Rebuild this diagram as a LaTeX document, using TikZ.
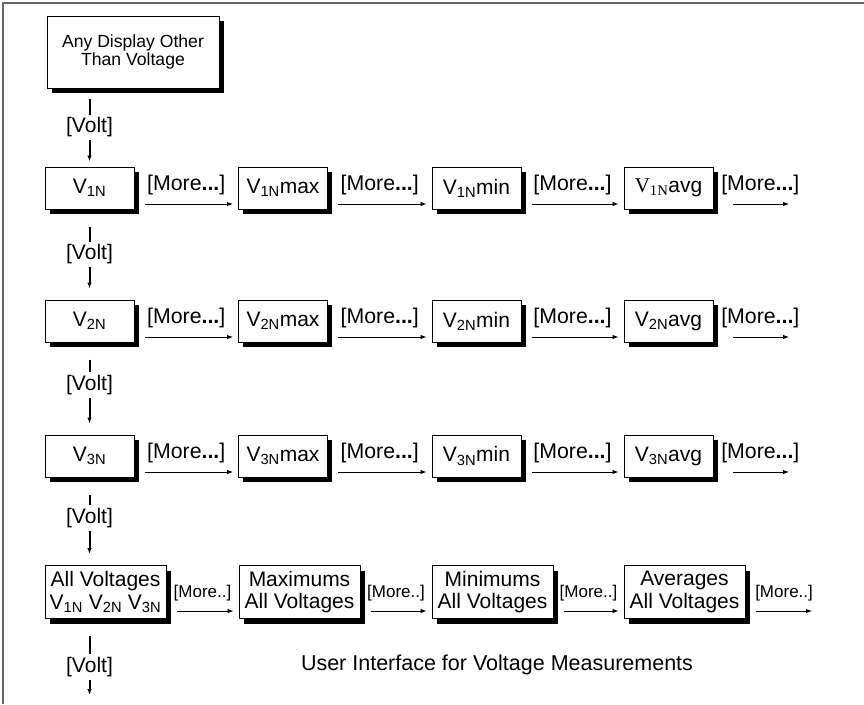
\documentclass[tikz,border=0pt]{standalone}
\usepackage{fontspec}
\setmainfont{Liberation Sans}
\newfontfamily\timesfont{Liberation Serif}
\usepackage{tikz}
\usetikzlibrary{arrows.meta,shadows}

\tikzset{
  box/.style={draw, line width=1pt, fill=white, align=center, inner sep=0pt,
    minimum width=89pt, minimum height=42pt, font=\fontsize{21}{22.5}\selectfont,
    drop shadow={shadow xshift=4.5pt, shadow yshift=-5pt, fill=black, opacity=1}},
  bigbox/.style={box, minimum width=121pt, minimum height=53pt},
  more/.style={->, line width=0.9pt, shorten <=10pt, shorten >=5pt},
  morelbl/.style={above=9pt, inner sep=0pt, font=\fontsize{21.3}{22}\selectfont},
  smalllbl/.style={above=10pt, inner sep=0pt, font=\fontsize{17}{18}\selectfont},
  volt/.style={->, line width=2pt, shorten <=17pt, shorten >=11pt},
  voltlbl/.style={fill=white, inner xsep=1pt, inner ysep=3pt, font=\fontsize{21}{22}\selectfont}
}

\begin{document}
\begin{tikzpicture}[x=1pt, y=-1pt, >={Latex[length=6pt,width=4.5pt]}]
\useasboundingbox (0,0) rectangle (864,704);
\draw [line width=2pt, black!60] (3,704) -- (3,3) -- (864,3);

\node[box, minimum width=172pt, minimum height=72pt, font=\fontsize{17.6}{18.5}\selectfont] (any) at (133,52) {Any Display Other\\Than Voltage};

\node[box] (V1) at (89.5,188) {V\textsubscript{1N}};
\node[box] (V1max) at (283,188) {V\textsubscript{1N}max};
\node[box] (V1min) at (476.5,188) {V\textsubscript{1N}min};
\node[box] (V1avg) at (668.5,188) {{\timesfont V\textsubscript{1N}}avg};
\coordinate (V1end) at (789,204);

\node[box] (V2) at (89.5,321) {V\textsubscript{2N}};
\node[box] (V2max) at (283,321) {V\textsubscript{2N}max};
\node[box] (V2min) at (476.5,321) {V\textsubscript{2N}min};
\node[box] (V2avg) at (668.5,321) {V\textsubscript{2N}avg};
\coordinate (V2end) at (789,337);

\node[box] (V3) at (89.5,456) {V\textsubscript{3N}};
\node[box] (V3max) at (283,456) {V\textsubscript{3N}max};
\node[box] (V3min) at (476.5,456) {V\textsubscript{3N}min};
\node[box] (V3avg) at (668.5,456) {V\textsubscript{3N}avg};
\coordinate (V3end) at (789,472);

\node[bigbox] (All) at (105.5,592) {All Voltages\\V\textsubscript{1N} V\textsubscript{2N} V\textsubscript{3N}};
\node[bigbox] (Maxs) at (299.5,592) {Maximums\\All Voltages};
\node[bigbox] (Mins) at (492.5,592) {Minimums\\All Voltages};
\node[bigbox] (Avgs) at (684.5,592) {Averages\\All Voltages};
\coordinate (Allend) at (812,611);
\coordinate (Vend) at (89.5,695);

\node[font=\fontsize{21.5}{22}\selectfont] (title) at (497,665) {User Interface for Voltage Measurements};

\draw [volt, shorten <=10pt, shorten >=5pt] (V1 |- any.south) -- node[voltlbl, pos=0.5] {[Volt]} (V1);
\draw [volt] (V1) -- node[voltlbl, pos=0.5] {[Volt]} (V2);
\draw [volt] (V2) -- node[voltlbl, pos=0.46] {[Volt]} (V3);
\draw [volt] (V3) -- node[voltlbl, pos=0.46] {[Volt]} (V3 |- All.north);
\draw [volt, shorten >=0pt] (V3 |- All.south) -- node[voltlbl, pos=0.63] {[Volt]} (Vend);

\draw [more] ([yshift=-16pt]V1.east) -- node[morelbl] {[More\textbf{...}]} ([yshift=-16pt]V1max.west);
\draw [more] ([yshift=-16pt]V1max.east) -- node[morelbl] {[More\textbf{...}]} ([yshift=-16pt]V1min.west);
\draw [more] ([yshift=-16pt]V1min.east) -- node[morelbl] {[More\textbf{...}]} ([yshift=-16pt]V1avg.west);
\draw [more, shorten <=19pt, shorten >=0pt] ([yshift=-16pt]V1avg.east) -- node[morelbl, pos=0.62] {[More\textbf{...}]} (V1end);

\draw [more] ([yshift=-16pt]V2.east) -- node[morelbl] {[More\textbf{...}]} ([yshift=-16pt]V2max.west);
\draw [more] ([yshift=-16pt]V2max.east) -- node[morelbl] {[More\textbf{...}]} ([yshift=-16pt]V2min.west);
\draw [more] ([yshift=-16pt]V2min.east) -- node[morelbl] {[More\textbf{...}]} ([yshift=-16pt]V2avg.west);
\draw [more, shorten <=19pt, shorten >=0pt] ([yshift=-16pt]V2avg.east) -- node[morelbl, pos=0.62] {[More\textbf{...}]} (V2end);

\draw [more] ([yshift=-16pt]V3.east) -- node[morelbl] {[More\textbf{...}]} ([yshift=-16pt]V3max.west);
\draw [more] ([yshift=-16pt]V3max.east) -- node[morelbl] {[More\textbf{...}]} ([yshift=-16pt]V3min.west);
\draw [more] ([yshift=-16pt]V3min.east) -- node[morelbl] {[More\textbf{...}]} ([yshift=-16pt]V3avg.west);
\draw [more, shorten <=19pt, shorten >=0pt] ([yshift=-16pt]V3avg.east) -- node[morelbl, pos=0.62] {[More\textbf{...}]} (V3end);

\draw [more] ([yshift=-19pt]All.east) -- node[smalllbl] {[More..]} ([yshift=-19pt]Maxs.west);
\draw [more] ([yshift=-19pt]Maxs.east) -- node[smalllbl] {[More..]} ([yshift=-19pt]Mins.west);
\draw [more] ([yshift=-19pt]Mins.east) -- node[smalllbl] {[More..]} ([yshift=-19pt]Avgs.west);
\draw [more, shorten >=0pt] ([yshift=-19pt]Avgs.east) -- node[smalllbl, pos=0.58] {[More..]} (Allend);
\end{tikzpicture}
\end{document}
